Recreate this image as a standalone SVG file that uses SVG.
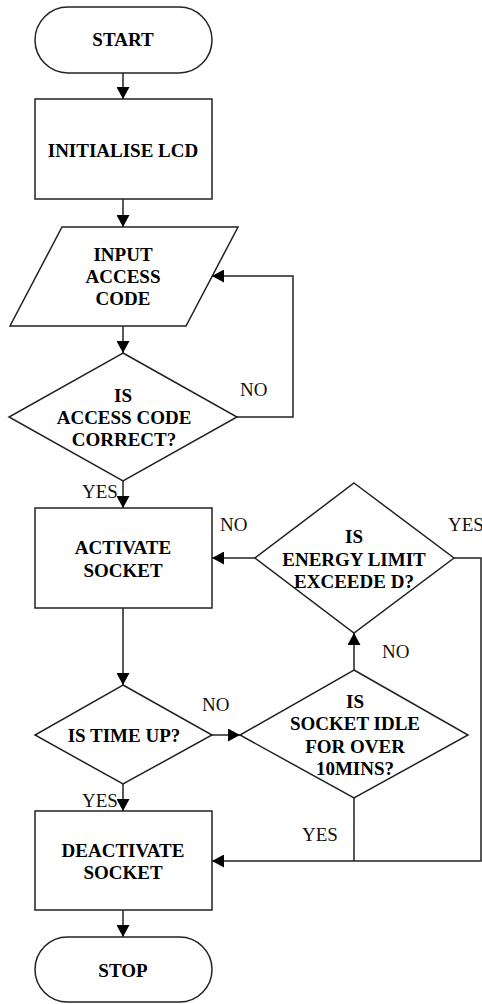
<svg xmlns="http://www.w3.org/2000/svg" width="482" height="1004" viewBox="0 0 482 1004" font-family="Liberation Serif, Times New Roman, serif">
<style>
.s{fill:#fff;stroke:#222;stroke-width:1.5}
.t{font-weight:700;font-size:19px;fill:#000;text-anchor:middle}
.l{font-weight:400;font-size:19px;fill:#111}
.c{fill:none;stroke:#222;stroke-width:1.5}
</style>
<defs>
<marker id="a" markerUnits="userSpaceOnUse" markerWidth="13" markerHeight="13" refX="12" refY="6.5" orient="auto">
<path d="M0,0 L12,6.5 L0,13 z" fill="#000"/>
</marker>
</defs>
<rect width="482" height="1004" fill="#fff"/>
<g id="connectors">
<path class="c" d="M123,73 V99" marker-end="url(#a)"/>
<path class="c" d="M123,199 V227" marker-end="url(#a)"/>
<path class="c" d="M123,326 V353" marker-end="url(#a)"/>
<path class="c" d="M237,417 H293 V276 H212" marker-end="url(#a)"/>
<path class="c" d="M123,481 V508" marker-end="url(#a)"/>
<path class="c" d="M255,558 H212" marker-end="url(#a)"/>
<path class="c" d="M454,558 H481 V861 H212" marker-end="url(#a)"/>
<path class="c" d="M123,608 V685" marker-end="url(#a)"/>
<path class="c" d="M212,735 H240" marker-end="url(#a)"/>
<path class="c" d="M354,670 V633" marker-end="url(#a)"/>
<path class="c" d="M354,798 V861"/>
<path class="c" d="M123,784 V811" marker-end="url(#a)"/>
<path class="c" d="M123,910 V937" marker-end="url(#a)"/>
<text class="l" x="240" y="396">NO</text>
<text class="l" x="82" y="498">YES</text>
<text class="l" x="220" y="531">NO</text>
<text class="l" x="448" y="531">YES</text>
<text class="l" x="382" y="658">NO</text>
<text class="l" x="202" y="711">NO</text>
<text class="l" x="82" y="807">YES</text>
<text class="l" x="302" y="841">YES</text>
</g>
<g id="start">
<rect class="s" x="35" y="7" width="177" height="66" rx="33"/>
<text class="t" x="123" y="46">START</text>
</g>
<g id="init">
<rect class="s" x="35" y="99" width="177" height="100"/>
<text class="t" x="123" y="157">INITIALISE LCD</text>
</g>
<g id="input">
<polygon class="s" points="62,227 238,227 186,326 10,326"/>
<text class="t" x="123" y="261">INPUT</text>
<text class="t" x="123" y="283">ACCESS</text>
<text class="t" x="123" y="305">CODE</text>
</g>
<g id="check">
<polygon class="s" points="123,353 237,417 123,481 9,417"/>
<text class="t" x="123" y="402">IS</text>
<text class="t" x="124" y="424">ACCESS CODE</text>
<text class="t" x="124" y="446">CORRECT?</text>
</g>
<g id="activate">
<rect class="s" x="35" y="508" width="177" height="100"/>
<text class="t" x="123" y="554">ACTIVATE</text>
<text class="t" x="123" y="577">SOCKET</text>
</g>
<g id="energy">
<polygon class="s" points="354,483 454,558 354,633 255,558"/>
<text class="t" x="354" y="543">IS</text>
<text class="t" x="354" y="566">ENERGY LIMIT</text>
<text class="t" x="354" y="588">EXCEEDE D?</text>
</g>
<g id="time">
<polygon class="s" points="123,685 212,735 123,784 35,735"/>
<text class="t" x="124" y="742">IS TIME UP?</text>
</g>
<g id="idle">
<polygon class="s" points="354,670 468,735 354,798 240,735"/>
<text class="t" x="355" y="708">IS</text>
<text class="t" x="355" y="730">SOCKET IDLE</text>
<text class="t" x="355" y="753">FOR OVER</text>
<text class="t" x="355" y="775">10MINS?</text>
</g>
<g id="deactivate">
<rect class="s" x="35" y="811" width="177" height="99"/>
<text class="t" x="123" y="857">DEACTIVATE</text>
<text class="t" x="123" y="879">SOCKET</text>
</g>
<g id="stop">
<rect class="s" x="35" y="937" width="177" height="65" rx="32.5"/>
<text class="t" x="123" y="977">STOP</text>
</g>
</svg>
